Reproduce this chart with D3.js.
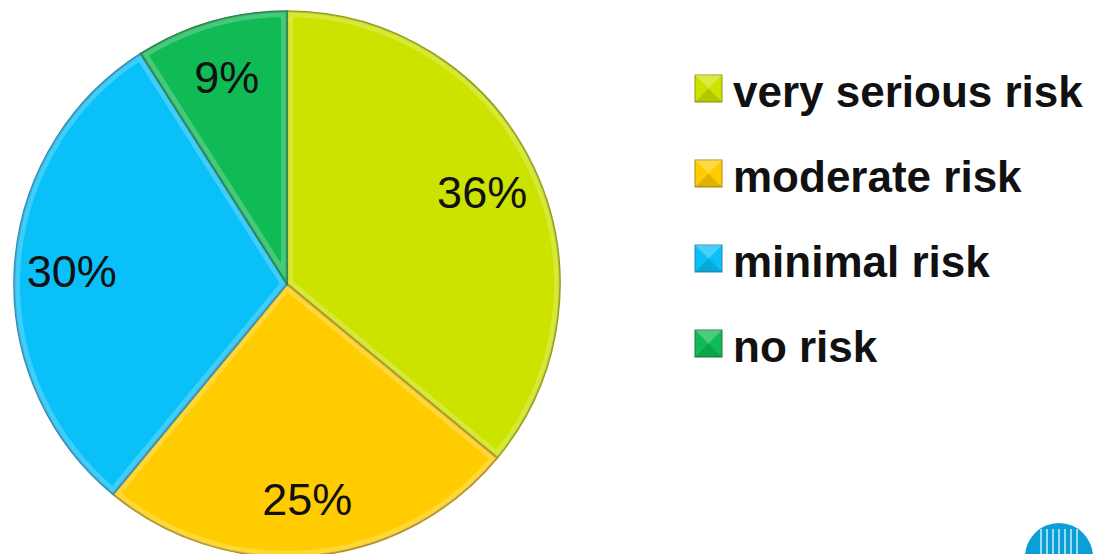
<!DOCTYPE html>
<html>
<head>
<meta charset="utf-8">
<script src="https://cdn.jsdelivr.net/npm/d3@7"></script>
<style>
  html, body { margin: 0; padding: 0; background: #fff; }
  svg { display: block; }
</style>
</head>
<body>
<svg id="chart" width="1101" height="554"></svg>
<script>
// Risk distribution
const categories = ["very serious risk", "moderate risk", "minimal risk", "no risk"];
const shares = [36, 25, 30, 9];
const labels = ["36%", "25%", "30%", "9%"];
const colors = ["#cce300", "#ffcc00", "#0ac0f8", "#10bb55"];
const edgeColors = ["#8f9a10", "#a78a20", "#2a88b0", "#1a7a40"];

const svg = d3.select("#chart");
const W = 1101, H = 554;
const cx = 287, cy = 284, R = 273;

const defs = svg.append("defs");

const pie = d3.pie().sort(null).value(d => d)(shares);
const arc = d3.arc().innerRadius(0).outerRadius(R);
const labelArc = d3.arc().innerRadius(R * 0.79).outerRadius(R * 0.79);

const g = svg.append("g").attr("transform", `translate(${cx},${cy})`);

// clip paths so the bevel strokes stay inside each slice
pie.forEach((p, i) => {
  defs.append("clipPath").attr("id", "clip" + i)
    .append("path").attr("d", arc(p));
});

const slices = g.selectAll("g.slice").data(pie).join("g").attr("class", "slice");

// base fill with a darker rim
slices.append("path")
  .attr("d", arc)
  .attr("fill", (d, i) => colors[i])
  .attr("stroke", (d, i) => edgeColors[i])
  .attr("stroke-width", 1.5);

// inner bevel: light band inside the slice edges
slices.append("path")
  .attr("d", arc)
  .attr("clip-path", (d, i) => `url(#clip${i})`)
  .attr("fill", "none")
  .attr("stroke", "#ffffff")
  .attr("stroke-opacity", 0.22)
  .attr("stroke-width", 12);

slices.append("path")
  .attr("d", arc)
  .attr("clip-path", (d, i) => `url(#clip${i})`)
  .attr("fill", "none")
  .attr("stroke", (d, i) => edgeColors[i])
  .attr("stroke-opacity", 0.35)
  .attr("stroke-width", 3);

// percentage labels
slices.append("text")
  .attr("transform", d => `translate(${labelArc.centroid(d)})`)
  .attr("text-anchor", "middle")
  .attr("dy", "0.36em")
  .attr("font-family", "Liberation Sans, Arial, sans-serif")
  .attr("font-size", 45)
  .attr("fill", "#111")
  .text((d, i) => labels[i]);

// legend
const legend = svg.append("g").attr("transform", "translate(695,0)");
const rowY = d3.scalePoint().domain(categories).range([107, 362]);
const items = legend.selectAll("g.item").data(categories).join("g")
  .attr("class", "item")
  .attr("transform", d => `translate(0,${rowY(d)})`);

items.append("rect")
  .attr("x", 0).attr("y", -32)
  .attr("width", 27).attr("height", 27)
  .attr("fill", (d, i) => colors[i])
  .attr("stroke", (d, i) => edgeColors[i])
  .attr("stroke-width", 1);

// small pyramid bevel on each legend key
items.append("path")
  .attr("d", "M0,-32 L13.5,-18.5 L27,-32 Z")
  .attr("fill", "#ffffff").attr("fill-opacity", 0.25);
items.append("path")
  .attr("d", "M0,-5 L13.5,-18.5 L27,-5 Z")
  .attr("fill", "#000000").attr("fill-opacity", 0.12);

items.append("text")
  .attr("x", 38)
  .attr("y", 0)
  .attr("font-family", "Liberation Sans, Arial, sans-serif")
  .attr("font-size", 44)
  .attr("font-weight", "bold")
  .attr("fill", "#111")
  .text(d => d);

// corner emblem
const logo = svg.append("g").attr("transform", "translate(1059,557)");
defs.append("clipPath").attr("id", "logoClip")
  .append("circle").attr("r", 34);
logo.append("circle").attr("r", 34).attr("fill", "#0a9fd6");
const stripes = logo.append("g").attr("clip-path", "url(#logoClip)");
d3.range(-18, 22, 6).forEach(x => {
  stripes.append("line")
    .attr("x1", x).attr("x2", x).attr("y1", -28).attr("y2", 10)
    .attr("stroke", "#ffffff").attr("stroke-width", 1.2);
});
</script>
</body>
</html>
